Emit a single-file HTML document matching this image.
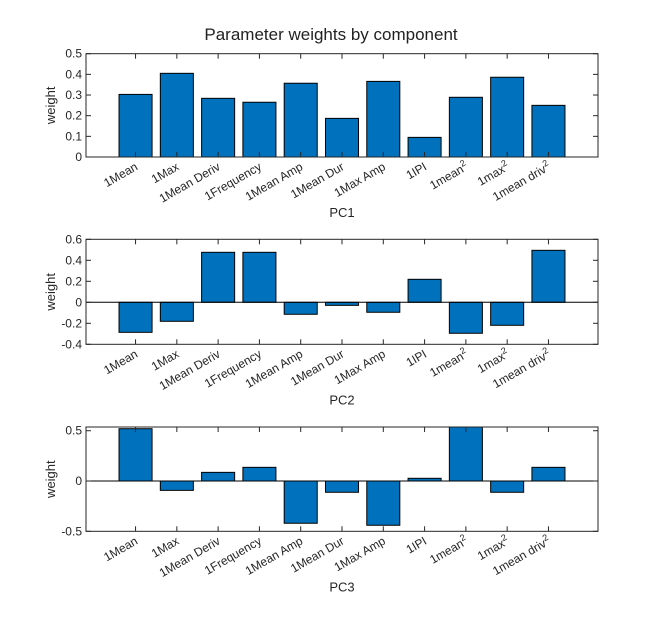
<!DOCTYPE html>
<html><head><meta charset="utf-8"><style>
body{margin:0;background:#fff;}
svg{display:block;font-family:"Liberation Sans",Arial,sans-serif;}
</style></head><body>
<svg id="chart" width="661" height="629">
<text x="331" y="40" text-anchor="middle" font-size="17" fill="#222">Parameter weights by component</text>
</svg>
<script>
const categories = ["1Mean","1Max","1Mean Deriv","1Frequency","1Mean Amp","1Mean Dur","1Max Amp","1IPI","1mean","1max","1mean driv"];
const superscripts = ["","","","","","","","","2","2","2"];
const pc1Values = [0.303,0.405,0.284,0.265,0.357,0.187,0.366,0.095,0.289,0.386,0.250];
const pc2Values = [-0.286,-0.181,0.476,0.476,-0.114,-0.029,-0.095,0.219,-0.295,-0.219,0.495];
const pc3Values = [0.520,-0.093,0.086,0.136,-0.420,-0.112,-0.440,0.027,0.600,-0.112,0.136];
const pc1Ticks = [0,0.1,0.2,0.3,0.4,0.5];
const pc2Ticks = [-0.4,-0.2,0,0.2,0.4,0.6];
const pc3Ticks = [-0.5,0,0.5];
const pc1TickLabels = ["0","0.1","0.2","0.3","0.4","0.5"];
const pc2TickLabels = ["-0.4","-0.2","0","0.2","0.4","0.6"];
const pc3TickLabels = ["-0.5","0","0.5"];

const NS="http://www.w3.org/2000/svg";
const svg=document.getElementById('chart');
function mk(tag,attrs,parent){const e=document.createElementNS(NS,tag);for(const k in attrs)e.setAttribute(k,attrs[k]);(parent||svg).appendChild(e);return e;}

function panel(idx,values,ticks,tickLabels,ymin,ymax,top,bottom,xlabel){
  const L=86,R=598;
  const g=mk('g',{});
  
  
  const xs=v=>L+(v+0.2)/12.4*(R-L);
  const ys=v=>bottom-(v-ymin)/(ymax-ymin)*(bottom-top);
  const clip=mk('clipPath',{id:'clip'+idx},g);
  mk('rect',{x:L,y:top,width:R-L,height:bottom-top},clip);
  const bars=mk('g',{'clip-path':'url(#clip'+idx+')'},g);
  values.forEach((v,i)=>{
    const x0=xs(i+1-0.4),x1=xs(i+1+0.4);
    const y0=ys(0),y1=ys(v);
    const r=mk('rect',{x:x0,y:Math.min(y0,y1),width:x1-x0,height:Math.abs(y1-y0),fill:'#0072BD',stroke:'#000','stroke-width':1},bars);
    
    
  });
  if(ymin<0){const z=mk('line',{x1:L,x2:R,y1:ys(0),y2:ys(0),stroke:'#000','stroke-width':1},g);
    }
  const box=mk('rect',{x:L,y:top,width:R-L,height:bottom-top,fill:'none',stroke:'#262626','stroke-width':1},g);
  
  ticks.forEach((t,i)=>{
    const y=ys(t);
    mk('line',{x1:L,x2:L+5,y1:y,y2:y,stroke:'#262626'},g);
    mk('line',{x1:R,x2:R-5,y1:y,y2:y,stroke:'#262626'},g);
    const tl=mk('text',{x:L-4,y:y+4,'text-anchor':'end','font-size':12,fill:'#262626'},g);
    tl.textContent=tickLabels[i];
    
  });
  categories.forEach((c,i)=>{
    const x=xs(i+1);
    mk('line',{x1:x,x2:x,y1:top,y2:top+5,stroke:'#262626'},g);
    mk('line',{x1:x,x2:x,y1:bottom,y2:bottom-5,stroke:'#262626'},g);
    const tx=x+3,ty=bottom+12;
    const t=mk('text',{x:tx,y:ty,'text-anchor':'end','font-size':12,fill:'#262626',transform:'rotate(-30 '+tx+' '+ty+')'},g);
    t.appendChild(document.createTextNode(c));
    if(superscripts[i]){const s=mk('tspan',{dy:-5,'font-size':9},t);s.textContent=superscripts[i];}
    
  });
  const yc=(top+bottom)/2;
  const yl=mk('text',{x:55,y:yc,'text-anchor':'middle','font-size':13,fill:'#262626',transform:'rotate(-90 55 '+yc+')'},g);
  yl.textContent='weight';
  
  const xl=mk('text',{x:(L+R)/2,y:bottom+60,'text-anchor':'middle','font-size':13,fill:'#262626'},g);
  xl.textContent=xlabel;
  
}
panel(1,pc1Values,pc1Ticks,pc1TickLabels,0,0.5,53.7,157,'PC1');
panel(2,pc2Values,pc2Ticks,pc2TickLabels,-0.4,0.6,239.3,344.3,'PC2');
panel(3,pc3Values,pc3Ticks,pc3TickLabels,-0.5,0.537,427,531.3,'PC3');
</script>
</body></html>
